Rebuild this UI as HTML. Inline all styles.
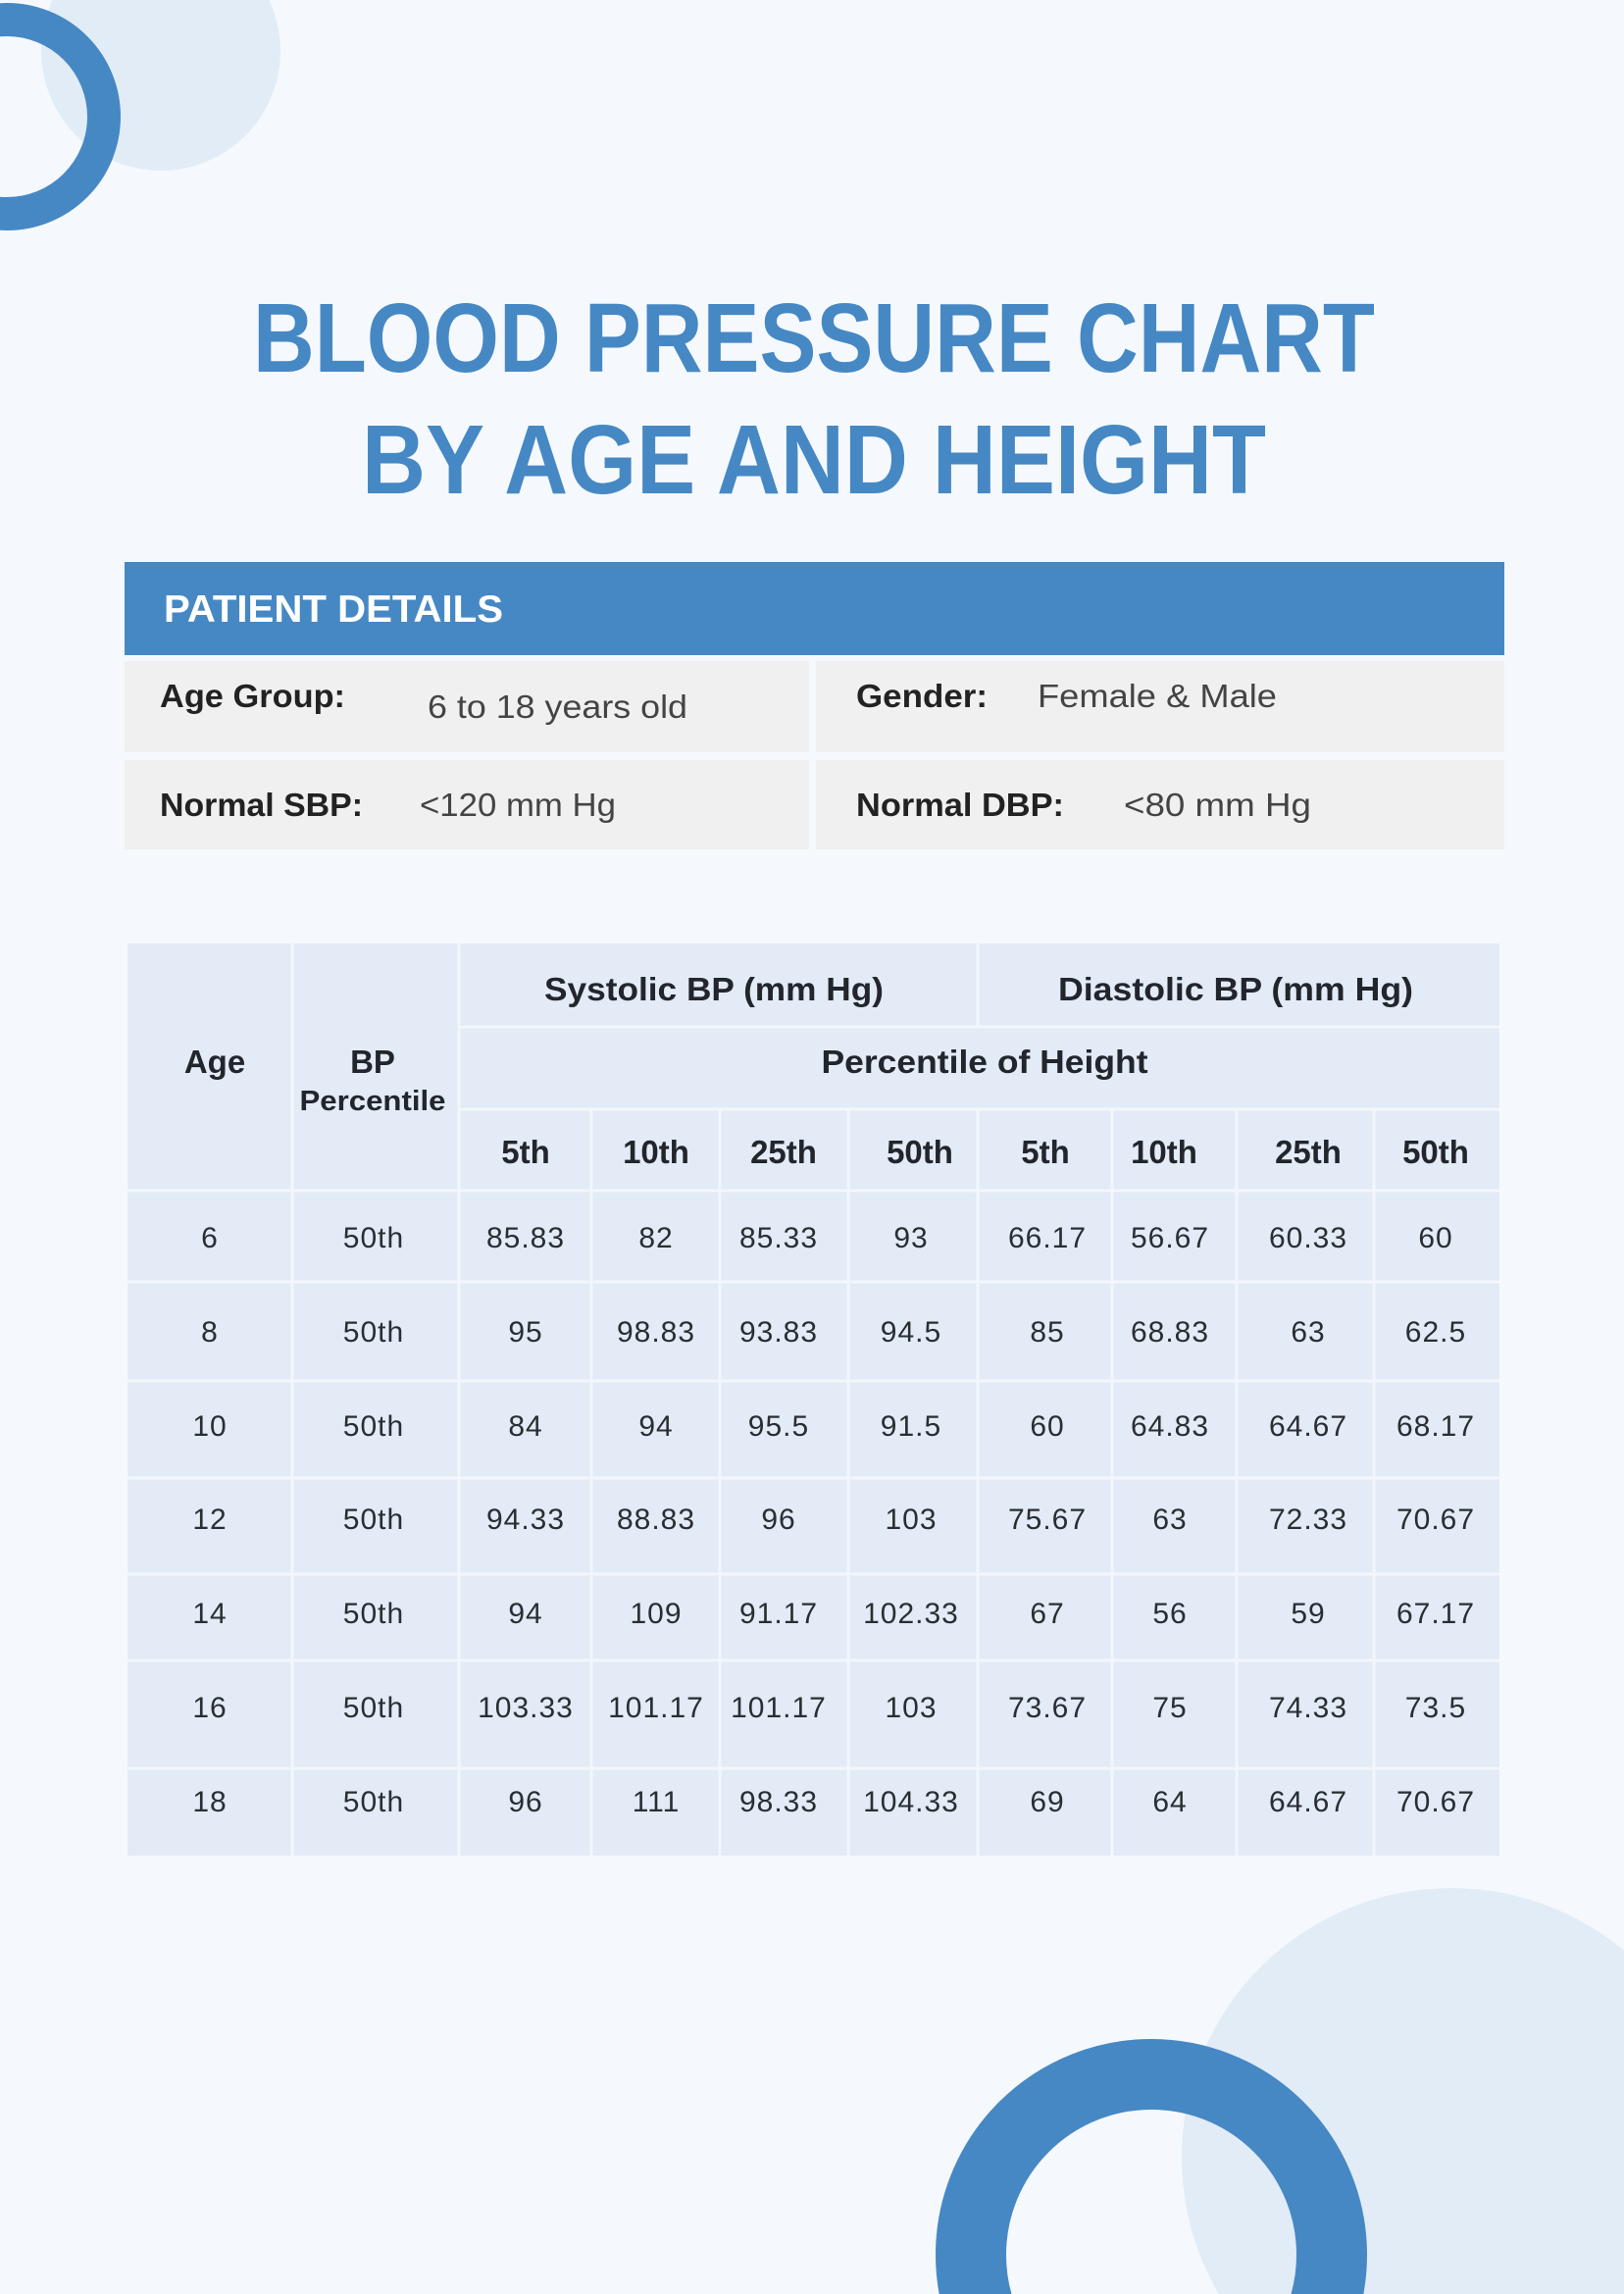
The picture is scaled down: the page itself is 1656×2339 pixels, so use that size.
<!DOCTYPE html>
<html><head><meta charset="utf-8"><style>
html,body{margin:0;padding:0;background:#f5f9fd;width:1656px;height:2339px;overflow:hidden;}
svg{display:block;overflow:hidden;}
</style></head><body>
<svg width="1656" height="2339" viewBox="0 0 1656 2339" xmlns="http://www.w3.org/2000/svg" font-family="'Liberation Sans', sans-serif">
<defs><clipPath id="pg"><rect width="1656" height="2339"/></clipPath></defs>
<g clip-path="url(#pg)">
<rect width="1656" height="2339" fill="#f5f9fd"/>
<circle cx="164" cy="52" r="122" fill="#e2ecf7"/>
<circle cx="7" cy="119" r="99" fill="none" stroke="#4688c4" stroke-width="34"/>
<circle cx="1480" cy="2200" r="275" fill="#e2ecf7"/>
<circle cx="1174" cy="2299" r="184" fill="none" stroke="#4688c4" stroke-width="72"/>
</g>

<g fill="#4688c4" font-weight="bold" font-size="100">
<text x="258" y="379" textLength="1144" lengthAdjust="spacingAndGlyphs">BLOOD PRESSURE CHART</text>
<text x="369" y="503" textLength="922" lengthAdjust="spacingAndGlyphs">BY AGE AND HEIGHT</text>
</g>

<rect x="127" y="573" width="1407" height="95" fill="#4688c4"/>
<text x="167" y="634" fill="#fff" font-weight="bold" font-size="39" textLength="346" lengthAdjust="spacingAndGlyphs">PATIENT DETAILS</text>
<rect x="127" y="674" width="698" height="93" fill="#f0f0f0"/>
<rect x="832" y="674" width="702" height="93" fill="#f0f0f0"/>
<rect x="127" y="775" width="698" height="91" fill="#f0f0f0"/>
<rect x="832" y="775" width="702" height="91" fill="#f0f0f0"/>
<g font-size="33" fill="#222">
<text x="163" y="721" font-weight="bold" textLength="189" lengthAdjust="spacingAndGlyphs">Age Group:</text>
<text x="436" y="732" fill="#444" textLength="265" lengthAdjust="spacingAndGlyphs">6 to 18 years old</text>
<text x="873" y="721" font-weight="bold" textLength="134" lengthAdjust="spacingAndGlyphs">Gender:</text>
<text x="1058" y="721" fill="#444" textLength="244" lengthAdjust="spacingAndGlyphs">Female &amp; Male</text>
<text x="163" y="832" font-weight="bold" textLength="207" lengthAdjust="spacingAndGlyphs">Normal SBP:</text>
<text x="428" y="832" fill="#444" textLength="200" lengthAdjust="spacingAndGlyphs">&lt;120 mm Hg</text>
<text x="873" y="832" font-weight="bold" textLength="212" lengthAdjust="spacingAndGlyphs">Normal DBP:</text>
<text x="1146" y="832" fill="#444" textLength="191" lengthAdjust="spacingAndGlyphs">&lt;80 mm Hg</text>
</g>

<rect x="130" y="962" width="1399" height="930" fill="#e2ebf6"/>
<g stroke="#f3f7fc" stroke-width="3">
<line x1="298" y1="962" x2="298" y2="1892"/>
<line x1="468" y1="962" x2="468" y2="1892"/>
<line x1="603" y1="1131" x2="603" y2="1892"/>
<line x1="734" y1="1131" x2="734" y2="1892"/>
<line x1="865" y1="1131" x2="865" y2="1892"/>
<line x1="997" y1="962" x2="997" y2="1047"/>
<line x1="997" y1="1131" x2="997" y2="1892"/>
<line x1="1134" y1="1131" x2="1134" y2="1892"/>
<line x1="1261" y1="1131" x2="1261" y2="1892"/>
<line x1="1401" y1="1131" x2="1401" y2="1892"/>
<line x1="468" y1="1047" x2="1529" y2="1047"/>
<line x1="468" y1="1131" x2="1529" y2="1131"/>
<line x1="130" y1="1214" x2="1529" y2="1214"/>
<line x1="130" y1="1307" x2="1529" y2="1307"/>
<line x1="130" y1="1408" x2="1529" y2="1408"/>
<line x1="130" y1="1507" x2="1529" y2="1507"/>
<line x1="130" y1="1605" x2="1529" y2="1605"/>
<line x1="130" y1="1693" x2="1529" y2="1693"/>
<line x1="130" y1="1803" x2="1529" y2="1803"/>
</g>
<g fill="#22262c" font-weight="bold" font-size="33" text-anchor="middle">
<text x="728" y="1020" textLength="346" lengthAdjust="spacingAndGlyphs">Systolic BP (mm Hg)</text>
<text x="1260" y="1020" textLength="362" lengthAdjust="spacingAndGlyphs">Diastolic BP (mm Hg)</text>
<text x="1004" y="1094" textLength="333" lengthAdjust="spacingAndGlyphs">Percentile of Height</text>
<text x="219" y="1094">Age</text>
<text x="380" y="1094">BP</text>
<text x="380" y="1132" font-size="29" textLength="149" lengthAdjust="spacingAndGlyphs">Percentile</text>
<text x="536" y="1186">5th</text>
<text x="669" y="1186">10th</text>
<text x="799" y="1186">25th</text>
<text x="938" y="1186">50th</text>
<text x="1066" y="1186">5th</text>
<text x="1187" y="1186">10th</text>
<text x="1334" y="1186">25th</text>
<text x="1464" y="1186">50th</text>
</g>
<g fill="#2a2e33" font-size="30" text-anchor="middle" letter-spacing="1">
<g transform="translate(0,1272)">
<text x="214">6</text><text x="381">50th</text><text x="536">85.83</text><text x="669">82</text><text x="794">85.33</text><text x="929">93</text><text x="1068">66.17</text><text x="1193">56.67</text><text x="1334">60.33</text><text x="1464">60</text></g>
<g transform="translate(0,1368)">
<text x="214">8</text><text x="381">50th</text><text x="536">95</text><text x="669">98.83</text><text x="794">93.83</text><text x="929">94.5</text><text x="1068">85</text><text x="1193">68.83</text><text x="1334">63</text><text x="1464">62.5</text></g>
<g transform="translate(0,1464)">
<text x="214">10</text><text x="381">50th</text><text x="536">84</text><text x="669">94</text><text x="794">95.5</text><text x="929">91.5</text><text x="1068">60</text><text x="1193">64.83</text><text x="1334">64.67</text><text x="1464">68.17</text></g>
<g transform="translate(0,1559)">
<text x="214">12</text><text x="381">50th</text><text x="536">94.33</text><text x="669">88.83</text><text x="794">96</text><text x="929">103</text><text x="1068">75.67</text><text x="1193">63</text><text x="1334">72.33</text><text x="1464">70.67</text></g>
<g transform="translate(0,1655)">
<text x="214">14</text><text x="381">50th</text><text x="536">94</text><text x="669">109</text><text x="794">91.17</text><text x="929">102.33</text><text x="1068">67</text><text x="1193">56</text><text x="1334">59</text><text x="1464">67.17</text></g>
<g transform="translate(0,1751)">
<text x="214">16</text><text x="381">50th</text><text x="536">103.33</text><text x="669">101.17</text><text x="794">101.17</text><text x="929">103</text><text x="1068">73.67</text><text x="1193">75</text><text x="1334">74.33</text><text x="1464">73.5</text></g>
<g transform="translate(0,1847)">
<text x="214">18</text><text x="381">50th</text><text x="536">96</text><text x="669">111</text><text x="794">98.33</text><text x="929">104.33</text><text x="1068">69</text><text x="1193">64</text><text x="1334">64.67</text><text x="1464">70.67</text></g>
</g>
</svg>
</body></html>
